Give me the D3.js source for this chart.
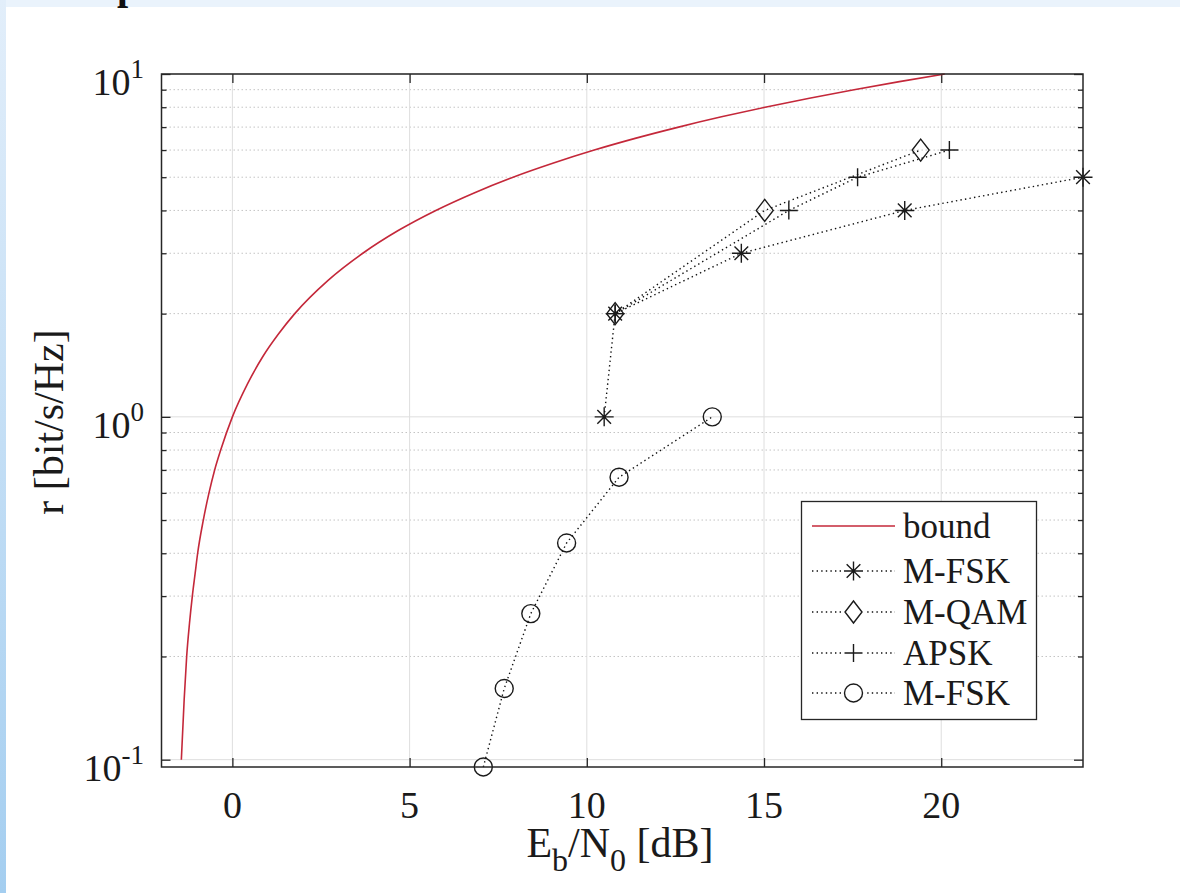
<!DOCTYPE html>
<html>
<head>
<meta charset="utf-8">
<script src="https://cdn.jsdelivr.net/npm/d3@7"></script>
<style>
  html, body { margin: 0; padding: 0; background: #ffffff; }
  svg { display: block; }
  text { font-family: "Liberation Serif", "Times New Roman", serif; fill: #1a1a1a; }
</style>
</head>
<body>
<svg id="chart" width="1180" height="893"></svg>
<script>
// Spectral efficiency r [bit/s/Hz] versus Eb/N0 [dB]

// Capacity bound: rate and required Eb/N0
const boundRate = [0.1, 0.15, 0.2, 0.25, 0.3, 0.35, 0.4, 0.5, 0.6, 0.7, 0.8, 1, 1.25, 1.5, 1.75, 2, 2.5, 3, 3.5, 4, 4.5, 5, 5.5, 6, 6.5, 7, 7.5, 8, 8.5, 9, 9.5, 10];
const boundEbN0 = [-1.44, -1.36, -1.29, -1.21, -1.13, -1.05, -0.98, -0.82, -0.66, -0.50, -0.33, 0.0, 0.43, 0.86, 1.31, 1.76, 2.70, 3.68, 4.69, 5.74, 6.82, 7.92, 9.06, 10.21, 11.39, 12.59, 13.80, 15.03, 16.28, 17.54, 18.82, 20.10];

// Modulation schemes (operating points)
const fskStarEbN0 = [10.49, 10.80, 14.36, 18.97, 24.0];
const fskStarRate = [1, 2, 3, 4, 5];

const qamEbN0 = [10.80, 15.02, 19.42];
const qamRate = [2, 4, 6];

const apskEbN0 = [10.80, 15.70, 17.64, 20.23];
const apskRate = [2, 4, 5, 6];

const fskCircEbN0 = [7.08, 7.67, 8.42, 9.43, 10.91, 13.54];
const fskCircRate = [0.0952, 0.1613, 0.2667, 0.4286, 0.6667, 1.0];

// Axes
const xTicks = [0, 5, 10, 15, 20];
const yMajorTicks = [0.1, 1, 10];
const yTickExponents = ["-1", "0", "1"];
const xDomain = [-2, 24];
const yDomain = [0.0952, 10];

const legendLabels = ["bound", "M-FSK", "M-QAM", "APSK", "M-FSK"];

const svg = d3.select("#chart");
const W = 1180, H = 893;

// page backdrop: light strips along top and left edges
const defs = svg.append("defs");
const grad = defs.append("linearGradient").attr("id", "edgeGrad")
  .attr("x1", 0).attr("y1", 0).attr("x2", 0).attr("y2", 1);
grad.append("stop").attr("offset", "0%").attr("stop-color", "#e2eefa");
grad.append("stop").attr("offset", "100%").attr("stop-color", "#a4cef0");

svg.append("rect").attr("x", 0).attr("y", 0).attr("width", W).attr("height", H).attr("fill", "#ffffff");
svg.append("rect").attr("x", 0).attr("y", 0).attr("width", W).attr("height", 7).attr("fill", "#eaf3fc");
svg.append("rect").attr("x", 0).attr("y", 0).attr("width", 6).attr("height", H).attr("fill", "url(#edgeGrad)");

// fragment of a heading running above the figure
svg.append("text").attr("x", 117).attr("y", -1)
  .attr("font-size", 40).attr("font-weight", "bold").style("fill", "#111")
  .text("p");

const plot = { left: 161.5, right: 1083, top: 74, bottom: 767 };

const x = d3.scaleLinear().domain(xDomain).range([plot.left, plot.right]);
const y = d3.scaleLog().domain(yDomain).range([plot.bottom, plot.top]);

// minor decade values 2..9 for each decade in view
const yMinor = [];
[0.1, 1].forEach(d => { for (let k = 2; k <= 9; k++) yMinor.push(+(d * k).toFixed(3)); });

const g = svg.append("g");

// minor grid (dotted)
g.append("g").selectAll("line").data(yMinor).join("line")
  .attr("x1", plot.left).attr("x2", plot.right)
  .attr("y1", d => y(d)).attr("y2", d => y(d))
  .attr("stroke", "#c4c4c4").attr("stroke-width", 1)
  .attr("stroke-dasharray", "1.5,2.5");

// major grid (solid)
g.append("g").selectAll("line").data(xTicks).join("line")
  .attr("x1", d => x(d)).attr("x2", d => x(d))
  .attr("y1", plot.top).attr("y2", plot.bottom)
  .attr("stroke", "#dedede").attr("stroke-width", 1);
g.append("g").selectAll("line").data(yMajorTicks).join("line")
  .attr("x1", plot.left).attr("x2", plot.right)
  .attr("y1", d => y(d)).attr("y2", d => y(d))
  .attr("stroke", "#dedede").attr("stroke-width", 1);

// inward ticks via d3 axes
const tickStyle = sel => {
  sel.select(".domain").remove();
  sel.selectAll(".tick line").attr("stroke", "#262626").attr("stroke-width", 1.3);
  sel.selectAll(".tick text").remove();
};
svg.append("g").attr("transform", `translate(0,${plot.bottom})`)
  .call(d3.axisBottom(x).tickValues(xTicks).tickSizeInner(-9).tickSizeOuter(0)).call(tickStyle);
svg.append("g").attr("transform", `translate(0,${plot.top})`)
  .call(d3.axisTop(x).tickValues(xTicks).tickSizeInner(-9).tickSizeOuter(0)).call(tickStyle);
svg.append("g").attr("transform", `translate(${plot.left},0)`)
  .call(d3.axisLeft(y).tickValues(yMajorTicks).tickSizeInner(-9).tickSizeOuter(0)).call(tickStyle);
svg.append("g").attr("transform", `translate(${plot.right},0)`)
  .call(d3.axisRight(y).tickValues(yMajorTicks).tickSizeInner(-9).tickSizeOuter(0)).call(tickStyle);
svg.append("g").attr("transform", `translate(${plot.left},0)`)
  .call(d3.axisLeft(y).tickValues(yMinor).tickSizeInner(-5).tickSizeOuter(0)).call(tickStyle);
svg.append("g").attr("transform", `translate(${plot.right},0)`)
  .call(d3.axisRight(y).tickValues(yMinor).tickSizeInner(-5).tickSizeOuter(0)).call(tickStyle);

// x tick labels
svg.append("g").selectAll("text").data(xTicks).join("text")
  .attr("x", d => x(d)).attr("y", 818)
  .attr("text-anchor", "middle").attr("font-size", 38)
  .text(d => d);

// y tick labels: 10 with superscript exponent
const yl = svg.append("g").selectAll("text").data(yMajorTicks).join("text")
  .attr("x", 144).attr("y", d => y(d) + 21)
  .attr("text-anchor", "end").attr("font-size", 38);
yl.append("tspan").text("10");
yl.append("tspan").attr("font-size", 27).attr("dy", -17).text((d, i) => yTickExponents[i]);

// axis labels
const xl = svg.append("text").attr("x", 620).attr("y", 857)
  .attr("text-anchor", "middle").attr("font-size", 42);
xl.append("tspan").text("E");
xl.append("tspan").attr("font-size", 32).attr("dy", 14).text("b");
xl.append("tspan").attr("dy", -14).text("/N");
xl.append("tspan").attr("font-size", 32).attr("dy", 14).text("0");
xl.append("tspan").attr("dy", -14).text(" [dB]");

svg.append("text")
  .attr("transform", "translate(63,422) rotate(-90)")
  .attr("text-anchor", "middle").attr("font-size", 42)
  .text("r [bit/s/Hz]");

// bound curve
const boundPts = boundRate.map((r, i) => [boundEbN0[i], r]);
const line = d3.line().x(d => x(d[0])).y(d => y(d[1]));
const smoothLine = d3.line().x(d => x(d[0])).y(d => y(d[1])).curve(d3.curveMonotoneX);
svg.append("path").datum(boundPts)
  .attr("d", smoothLine).attr("fill", "none")
  .attr("stroke", "#c4283a").attr("stroke-width", 1.6);

// marker shapes
function markerPath(kind, cx, cy) {
  const p = d3.path();
  if (kind === "star") {
    const r = 9.5, q = r * 0.72;
    p.moveTo(cx - r, cy); p.lineTo(cx + r, cy);
    p.moveTo(cx, cy - r); p.lineTo(cx, cy + r);
    p.moveTo(cx - q, cy - q); p.lineTo(cx + q, cy + q);
    p.moveTo(cx - q, cy + q); p.lineTo(cx + q, cy - q);
  } else if (kind === "plus") {
    const r = 9;
    p.moveTo(cx - r, cy); p.lineTo(cx + r, cy);
    p.moveTo(cx, cy - r); p.lineTo(cx, cy + r);
  } else if (kind === "diamond") {
    const w = 8.5, h = 11;
    p.moveTo(cx, cy - h); p.lineTo(cx + w, cy); p.lineTo(cx, cy + h); p.lineTo(cx - w, cy); p.closePath();
  } else if (kind === "circle") {
    p.moveTo(cx + 9, cy); p.arc(cx, cy, 9, 0, 2 * Math.PI);
  }
  return p.toString();
}

const series = [
  { ebn0: fskStarEbN0, rate: fskStarRate, marker: "star" },
  { ebn0: qamEbN0, rate: qamRate, marker: "diamond" },
  { ebn0: apskEbN0, rate: apskRate, marker: "plus" },
  { ebn0: fskCircEbN0, rate: fskCircRate, marker: "circle" }
];

series.forEach(s => {
  const pts = s.ebn0.map((e, i) => [e, s.rate[i]]);
  const sg = svg.append("g");
  sg.append("path").datum(pts).attr("d", line)
    .attr("fill", "none").attr("stroke", "#111").attr("stroke-width", 1.4)
    .attr("stroke-dasharray", "1.4,3.2");
  sg.selectAll("path.mk").data(pts).join("path").attr("class", "mk")
    .attr("d", d => markerPath(s.marker, x(d[0]), y(d[1])))
    .attr("fill", "none").attr("stroke", "#1a1a1a").attr("stroke-width", 1.4);
});

// plot box
svg.append("rect")
  .attr("x", plot.left).attr("y", plot.top)
  .attr("width", plot.right - plot.left).attr("height", plot.bottom - plot.top)
  .attr("fill", "none").attr("stroke", "#262626").attr("stroke-width", 1.5);

// legend
const lg = { left: 801.5, top: 501.5, right: 1036.5, bottom: 719.5 };
svg.append("rect")
  .attr("x", lg.left).attr("y", lg.top)
  .attr("width", lg.right - lg.left).attr("height", lg.bottom - lg.top)
  .attr("fill", "#ffffff").attr("stroke", "#262626").attr("stroke-width", 1.3);

const rowY = [526, 571, 612, 653, 693];
const legendKinds = [null, "star", "diamond", "plus", "circle"];
legendLabels.forEach((lab, i) => {
  const ry = rowY[i];
  if (i === 0) {
    svg.append("line").attr("x1", 812).attr("x2", 895).attr("y1", ry).attr("y2", ry)
      .attr("stroke", "#c4283a").attr("stroke-width", 1.6);
  } else {
    svg.append("line").attr("x1", 812).attr("x2", 895).attr("y1", ry).attr("y2", ry)
      .attr("stroke", "#111").attr("stroke-width", 1.4).attr("stroke-dasharray", "1.4,3.2");
    svg.append("rect").attr("x", 843).attr("y", ry - 12).attr("width", 21).attr("height", 24).attr("fill", "#fff");
    svg.append("path").attr("d", markerPath(legendKinds[i], 853.5, ry))
      .attr("fill", "none").attr("stroke", "#1a1a1a").attr("stroke-width", 1.4);
  }
  svg.append("text").attr("x", 903).attr("y", ry + 12)
    .attr("font-size", 35).text(lab);
});
</script>
</body>
</html>
